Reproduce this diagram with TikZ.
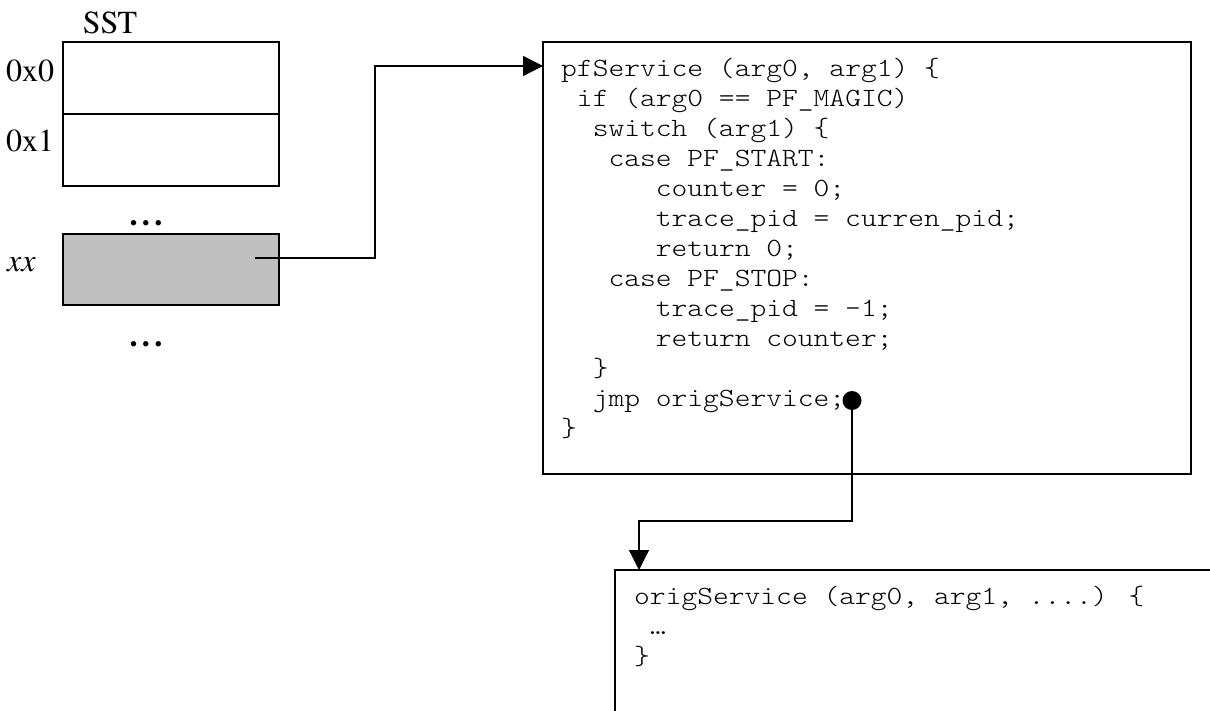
\documentclass[tikz,border=0pt]{standalone}
\usepackage{fontspec}
\setmainfont{texgyretermes-regular.otf}[
  BoldFont=texgyretermes-bold.otf,
  ItalicFont=texgyretermes-italic.otf]
\newfontfamily\codefont{lmmonolt10-regular.otf}[FakeStretch=1.143]
\usetikzlibrary{arrows.meta}
\definecolor{slotgray}{HTML}{C0C0C0}

\begin{document}
\begin{tikzpicture}[x=1pt,y=-1pt,
  box/.style={draw, line width=1.3pt, inner sep=0pt, outer sep=0pt},
  slot/.style={box, minimum width=216pt},
  label/.style={font=\fontsize{32pt}{38pt}\selectfont, inner sep=0pt, anchor=base west},
  dots/.style={font=\fontsize{32pt}{38pt}\selectfont\bfseries, inner sep=0pt, anchor=base},
  code/.style={font=\codefont\fontsize{26.3pt}{30pt}\selectfont, inner sep=0pt, anchor=base west},
  conn/.style={line width=1.3pt, -{Triangle[length=20pt,width=20pt]}},
]
\clip (0,0) rectangle (1210,711);

% system service table
\node[label, anchor=base] (sst) at (110,33.3) {SST};
\node[slot, minimum height=72pt] (r0) at (171,78) {};
\node[slot, minimum height=72pt] (r1) at (171,150) {};
\node[slot, minimum height=71pt, fill=slotgray] (rxx) at (171,269.5) {};
\node[label] (l0) at (6,81.7) {0x0};
\node[label] (l1) at (6,151.7) {0x1};
\node[label] (lxx) at (7,272) {\itshape xx};
\node[dots] (gap1) at (146,226) {.\hspace{4.5pt}.\hspace{4.5pt}.};
\node[dots] (gap2) at (146,346) {.\hspace{4.5pt}.\hspace{4.5pt}.};

% hooked service routine
\node[box, minimum width=648pt, minimum height=432pt] (pf) at (867,258) {};
\foreach \k/\n/\t in {
  1/0/{pfService (arg0, arg1) \{},
  2/1/{if (arg0 == PF\_MAGIC)},
  3/2/{switch (arg1) \{},
  4/3/{case PF\_START:},
  5/6/{counter = 0;},
  6/6/{trace\_pid = curren\_pid;},
  7/6/{return 0;},
  8/3/{case PF\_STOP:},
  9/6/{trace\_pid = -1;},
  10/6/{return counter;},
  11/2/{\}},
  12/2/{jmp origService;},
  13/0/{\}}}
  \node[code] (pf\k) at (561+15.78*\n, 76.5+30*\k-30) {\t};

% original service routine
\node[box, minimum width=625pt, minimum height=170pt] (orig) at (927.5,655) {};
\node[code] (og1) at (634,604) {origService (arg0, arg1, ....) \{};
\node[code] (og2) at (649.8,634) {…};
\node[code] (og3) at (634,664) {\}};

% connectors
\coordinate (xxend) at (255,258);
\coordinate (turn1) at (375,258);
\coordinate (pfin) at ([yshift=-24pt]pf.north west);
\draw[conn] (xxend) -- (turn1) |- (pfin);

\node[circle, fill, inner sep=0pt, minimum width=18pt, minimum height=19pt] (jd) at (852,400.5) {};
\coordinate (turn2) at (852,521);
\coordinate (origin) at ([xshift=24pt]orig.north west);
\draw[conn] (jd.center) -- (turn2) -| (origin);
\end{tikzpicture}
\end{document}
